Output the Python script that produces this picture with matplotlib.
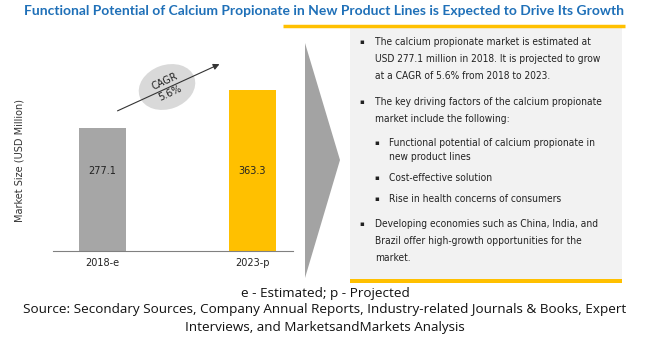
import matplotlib.pyplot as plt
from matplotlib.patches import Polygon, Rectangle, Ellipse

# data
years = ["2018-e", "2023-p"]
market_size = [277.1, 363.3]
bar_colors = ["#a6a6a6", "#ffc000"]
cagr_text = "CAGR\n5.6%"

title = "Functional Potential of Calcium Propionate in New Product Lines is Expected to Drive Its Growth"
bullets = [
    (0, ["The calcium propionate market is estimated at",
         "USD 277.1 million in 2018. It is projected to grow",
         "at a CAGR of 5.6% from 2018 to 2023."]),
    (0, ["The key driving factors of the calcium propionate",
         "market include the following:"]),
    (1, ["Functional potential of calcium propionate in",
         "new product lines"]),
    (1, ["Cost-effective solution"]),
    (1, ["Rise in health concerns of consumers"]),
    (0, ["Developing economies such as China, India, and",
         "Brazil offer high-growth opportunities for the",
         "market."]),
]
footer = ["e - Estimated; p - Projected",
          "Source: Secondary Sources, Company Annual Reports, Industry-related Journals & Books, Expert",
          "Interviews, and MarketsandMarkets Analysis"]

W, H = 650, 344
fig = plt.figure(figsize=(6.5, 3.44), dpi=100)

# overlay in pixel coords
ov = fig.add_axes([0, 0, 1, 1])
ov.set_xlim(0, W)
ov.set_ylim(H, 0)
ov.axis("off")

ov.text(324, 11, title, ha="center", va="center", color="#1f70b8",
        fontsize=10, fontweight="bold", family="Lato")
ov.plot([283, 625], [26, 26], color="#ffc000", lw=2.5, solid_capstyle="butt")

# panel
ov.add_patch(Rectangle((350, 28), 272, 251, facecolor="#f2f2f2", edgecolor="none"))
ov.add_patch(Rectangle((350, 279), 272, 4, facecolor="#ffc000", edgecolor="none"))

# chevron
ov.add_patch(Polygon([(305, 43), (340, 160), (305, 278)], closed=True,
                     facecolor="#a3a3a3", edgecolor="none"))

y = 42
for k, (lvl, lines) in enumerate(bullets):
    if lvl == 0:
        bx, tx, step = 362, 375, 17
    else:
        bx, tx, step = 377, 389, 14
    ov.text(bx, y, "\u25aa", ha="center", va="center", fontsize=5, color="#222222")
    for ln in lines:
        ov.text(tx, y, ln, ha="left", va="center", fontsize=7.3,
                family="DejaVu Sans", stretch="condensed", color="#222222")
        y += step
    nxt = bullets[k + 1][0] if k + 1 < len(bullets) else 0
    if lvl == 0:
        y += 9 if nxt == 0 else 7
    else:
        y += 11 if nxt == 0 else 7

for i, ln in enumerate(footer):
    ov.text(325, 293 + i * 17, ln, ha="center", va="center", fontsize=9.7,
            family="Open Sans", color="#111111")

# CAGR arrow and ellipse
ov.annotate("", xy=(222, 63), xytext=(115, 112),
            arrowprops=dict(arrowstyle="-|>", color="#333333", lw=0.8, mutation_scale=9))
ov.add_patch(Ellipse((167, 87), 58, 44, angle=-20, facecolor="#d9d9d9", edgecolor="none"))
ov.text(167, 87, cagr_text, ha="center", va="center", rotation=25,
        fontsize=7, color="#222222", linespacing=1.3)

# bar chart
ax = fig.add_axes([53 / W, (H - 251) / H, 240 / W, 177.6 / H])
ax.set_zorder(-1)
x = range(len(years))
bars = ax.bar(x, market_size, width=0.313, color=bar_colors)
for b, v in zip(bars, market_size):
    ax.text(b.get_x() + b.get_width() / 2, 180, f"{v:.1f}", ha="center",
            va="center", fontsize=7, color="#222222")
ax.set_xlim(-0.33, 1.27)
ax.set_ylim(0, 400)
ax.set_xticks(list(x))
ax.set_xticklabels(years, fontsize=7, color="#222222")
ax.tick_params(axis="x", length=0, pad=5)
ax.set_yticks([])
for s in ["top", "right", "left"]:
    ax.spines[s].set_visible(False)
ax.spines["bottom"].set_color("#808080")
ax.patch.set_alpha(0)
ov.text(20, 160, "Market Size (USD Million)", rotation=90, ha="center", va="center",
        fontsize=7, color="#333333")

fig.savefig("out.png", dpi=100)
